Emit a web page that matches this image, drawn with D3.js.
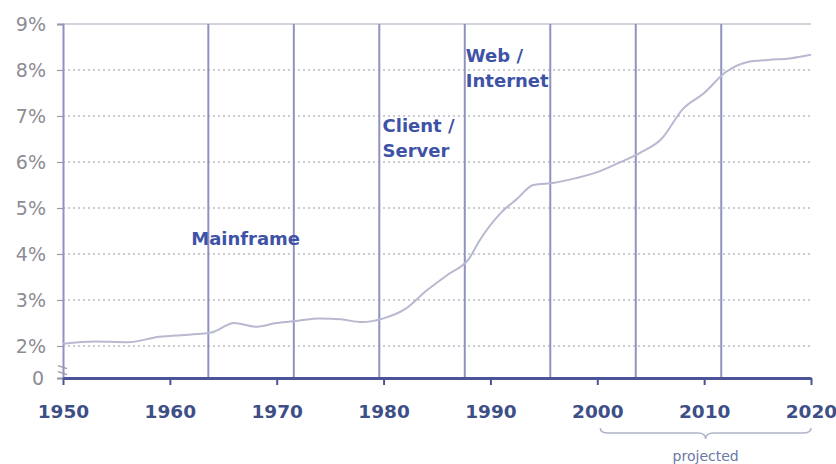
<html lang="en">
<head>
    <meta charset="utf-8">
    <title>IT share chart</title>
    <script src="https://cdn.jsdelivr.net/npm/d3@7"></script>
    <style>
        body { margin: 0; background: #fff; }
    </style>
</head>
<body></body>
<script type="text/javascript">

    //	Data
    const years = [1950, 1953, 1956, 1959, 1962, 1964, 1966, 1968, 1970, 1972, 1974, 1976, 1978, 1980,
        1982, 1984, 1986, 1988, 1989, 1991, 1992.5, 1994, 1996, 1998, 2000, 2002, 2004, 2006, 2008,
        2010, 2012, 2014, 2016, 2018, 2020];
    const share = [2.05, 2.1, 2.08, 2.2, 2.25, 2.3, 2.5, 2.42, 2.5, 2.55, 2.6, 2.58, 2.52, 2.6,
        2.8, 3.2, 3.55, 3.9, 4.3, 4.9, 5.2, 5.5, 5.55, 5.65, 5.78, 5.98, 6.2, 6.5, 7.15,
        7.5, 7.95, 8.17, 8.22, 8.25, 8.33];
    const eraLines = [1963.6, 1971.6, 1979.6, 1987.6, 1995.6, 2003.6, 2011.6];
    const xTicks = [1950, 1960, 1970, 1980, 1990, 2000, 2010, 2020];
    const yTicks = [0, 2, 3, 4, 5, 6, 7, 8, 9];
    const eras = [
        {lines: ["Mainframe"], year: 1962.0, val: 4.2},
        {lines: ["Client /", "Server"], year: 1979.9, val: 6.65},
        {lines: ["Web /", "Internet"], year: 1987.7, val: 8.17}
    ];
    const projected = [2000, 2020];

    //****************************************************************************************************************************//
    //	Svg and scales

    const W = 836, H = 464;
    const svg = d3.select("body").append("svg")
        .attr("width", W).attr("height", H);

    const x = d3.scaleLinear().domain([1950, 2020]).range([63, 811]);
    // broken axis: 0..2 squeezed
    const y = d3.scaleLinear().domain([0, 2, 9]).range([378, 346, 24]);

    //	Grid (dotted)
    svg.append("g").selectAll("line")
        .data(yTicks.filter(d => d >= 2))
        .join("line")
        .attr("x1", x(1950)).attr("x2", x(2020))
        .attr("y1", d => y(d)).attr("y2", d => y(d))
        .attr("stroke", d => d === 9 ? "#a8a8b8" : "#9a9aa6")
        .attr("stroke-width", 1.2)
        .attr("stroke-dasharray", d => d === 9 ? null : "2,3");

    //	Era dividers
    svg.append("g").selectAll("line")
        .data(eraLines)
        .join("line")
        .attr("x1", d => x(d)).attr("x2", d => x(d))
        .attr("y1", y(9)).attr("y2", y(0))
        .attr("stroke", "#8f92c0")
        .attr("stroke-width", 2);

    //	Y axis
    const yAxis = svg.append("g")
        .attr("transform", `translate(${x(1950)},0)`)
        .call(d3.axisLeft(y).tickValues(yTicks).tickSize(6)
            .tickFormat(d => d === 0 ? "0" : d + "%"));
    yAxis.select(".domain").attr("stroke", "#8f92c0").attr("stroke-width", 2);
    yAxis.selectAll(".tick line").attr("stroke", "#9a9aa6").attr("stroke-width", 1.2);
    yAxis.selectAll(".tick text")
        .attr("x", d => d === 0 ? -19 : -17)
        .style("font-family", "DejaVu Sans, sans-serif")
        .style("font-size", "19px")
        .attr("fill", "#8c8c94");

    // axis break marks
    svg.append("g").selectAll("line")
        .data([2.6, 1.1])
        .join("line")
        .attr("x1", x(1950) - 5).attr("x2", x(1950) + 4)
        .attr("y1", d => y(d / 4) - 2).attr("y2", d => y(d / 4) + 1)
        .attr("stroke", "#9a9aa6").attr("stroke-width", 1.5);

    //	X axis
    const xAxis = svg.append("g")
        .attr("transform", `translate(0,${y(0)})`)
        .call(d3.axisBottom(x).tickValues(xTicks).tickSize(7).tickSizeOuter(0).tickFormat(d3.format("d")));
    xAxis.select(".domain").attr("stroke", "#4b5499").attr("stroke-width", 3);
    xAxis.selectAll(".tick line").attr("stroke", "#4b5499").attr("stroke-width", 2);
    xAxis.selectAll(".tick text")
        .attr("y", 27)
        .style("font-family", "DejaVu Sans, sans-serif")
        .style("font-size", "18.5px")
        .style("font-weight", "bold")
        .attr("fill", "#3d4f86");

    //	Series line
    const pts = years.map((yr, i) => [yr, share[i]]);
    svg.append("path")
        .datum(pts)
        .attr("fill", "none")
        .attr("stroke", "#b8b8d0")
        .attr("stroke-width", 2)
        .attr("d", d3.line().x(d => x(d[0])).y(d => y(d[1])).curve(d3.curveMonotoneX));

    //	Era labels
    eras.forEach(e => {
        const t = svg.append("text")
            .attr("x", x(e.year)).attr("y", y(e.val))
            .style("font-family", "DejaVu Sans, sans-serif")
            .style("font-size", "18px")
            .style("font-weight", "bold")
            .attr("fill", "#3e53a6");
        e.lines.forEach((s, i) => {
            t.append("tspan").attr("x", x(e.year)).attr("dy", i === 0 ? 0 : 25).text(s);
        });
    });

    //	Projected brace
    const bx0 = x(projected[0]) + 3, bx1 = x(projected[1]), bm = (bx0 + bx1) / 2, by = 428;
    svg.append("path")
        .attr("fill", "none")
        .attr("stroke", "#b0b4c8")
        .attr("stroke-width", 1.5)
        .attr("d", `M${bx0},${by} Q${bx0},${by + 5} ${bx0 + 8},${by + 5} L${bm - 8},${by + 5}
                    Q${bm},${by + 5} ${bm},${by + 11} Q${bm},${by + 5} ${bm + 8},${by + 5}
                    L${bx1 - 8},${by + 5} Q${bx1},${by + 5} ${bx1},${by}`);

    svg.append("text")
        .attr("x", bm).attr("y", 461)
        .attr("text-anchor", "middle")
        .style("font-family", "DejaVu Sans, sans-serif")
        .style("font-size", "14px")
        .attr("fill", "#6a78a6")
        .text("projected");

</script>
</html>
